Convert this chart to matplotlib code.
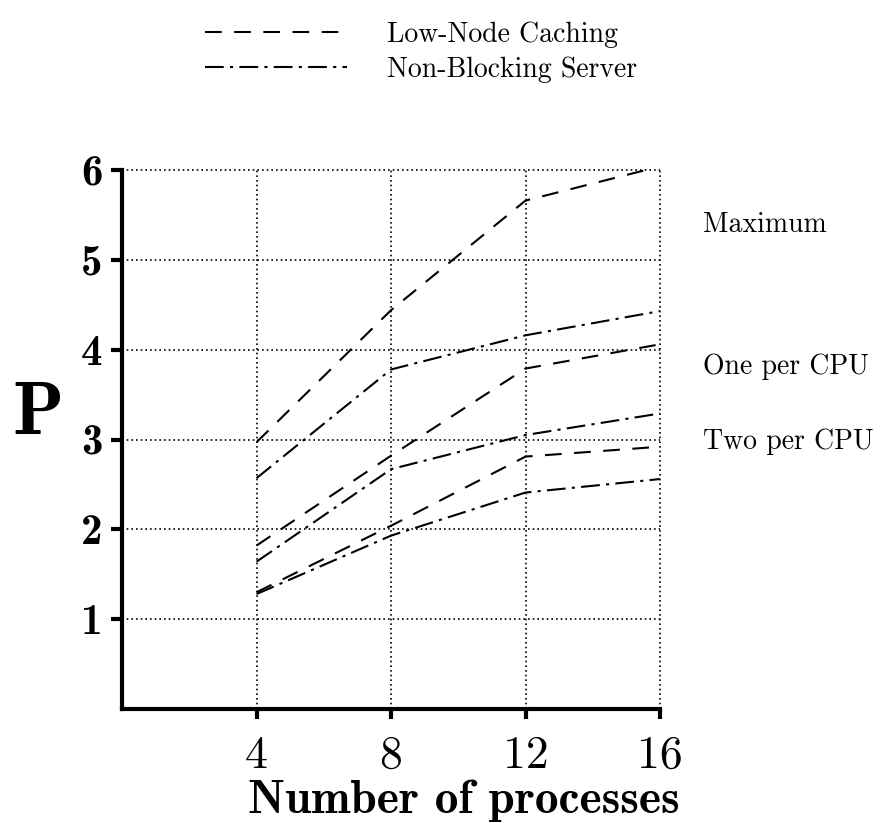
import matplotlib
matplotlib.use("Agg")
import matplotlib.pyplot as plt
from matplotlib.transforms import ScaledTranslation

# data
procs = [4, 8, 12, 16]
lnc_max = [2.97, 4.44, 5.66, 6.04]
nbs_max = [2.57, 3.78, 4.16, 4.43]
lnc_one = [1.82, 2.82, 3.79, 4.06]
nbs_one = [1.64, 2.67, 3.05, 3.29]
lnc_two = [1.30, 2.04, 2.81, 2.92]
nbs_two = [1.28, 1.93, 2.41, 2.56]

x_ticks = [4, 8, 12, 16]
y_ticks = [1, 2, 3, 4, 5, 6]
group_labels = ["Maximum", "One per CPU", "Two per CPU"]
group_label_y = [5.39, 3.81, 2.98]

dash = (0, (8, 6))
dashdot = (0, (9, 3, 1.5, 3))

fig = plt.figure(figsize=(8.85, 8.23), dpi=100)
ax = fig.add_axes([0.1379, 0.1385, 0.6079, 0.6549])

ax.plot(procs, lnc_max, color="black", lw=1.5, linestyle=dash, label="Low-Node Caching")
ax.plot(procs, nbs_max, color="black", lw=1.5, linestyle=dashdot, label="Non-Blocking Server")
ax.plot(procs, lnc_one, color="black", lw=1.5, linestyle=dash)
ax.plot(procs, nbs_one, color="black", lw=1.5, linestyle=dashdot)
ax.plot(procs, lnc_two, color="black", lw=1.5, linestyle=dash)
ax.plot(procs, nbs_two, color="black", lw=1.5, linestyle=dashdot)

ax.set_xlim(0, 16)
ax.set_ylim(0, 6)
ax.set_xticks(x_ticks)
ax.set_yticks(y_ticks)
ax.set_xticklabels([str(v) for v in x_ticks], fontfamily="cmr10", fontsize=33)
ax.set_yticklabels([str(v) for v in y_ticks], fontfamily="cmb10", fontsize=31)
# the y labels sit a little below their ticks in the original
for lbl in ax.get_yticklabels():
    lbl.set_transform(lbl.get_transform() + ScaledTranslation(0, -5 / 72, fig.dpi_scale_trans))

ax.grid(True, color="black", linestyle=(0, (1, 1.8)), linewidth=1.2)
for gl in ax.get_xgridlines() + ax.get_ygridlines():
    gl.set_clip_on(False)

for s in ["top", "right"]:
    ax.spines[s].set_visible(False)
for s in ["left", "bottom"]:
    ax.spines[s].set_linewidth(3)
ax.tick_params(axis="y", direction="out", length=8, width=3, pad=6)
ax.tick_params(axis="x", direction="out", length=7, width=3, pad=12)

ax.set_ylabel("P", fontfamily="cmb10", fontsize=54, rotation=0, va="center", ha="center")
ax.yaxis.set_label_coords(-0.156, 0.544)
ax.set_xlabel("Number of processes", fontfamily="cmb10", fontsize=34, va="baseline")
ax.xaxis.set_label_coords(0.636, -0.193)

for lab, yv in zip(group_labels, group_label_y):
    ax.text(17.28, yv, lab, fontfamily="cmr10", fontsize=20, va="center", ha="left", clip_on=False)

leg = ax.legend(loc="upper left", bbox_to_anchor=(0.154, 1.276), frameon=False,
                prop={"family": "cmr10", "size": 20}, handlelength=5.1,
                handletextpad=1.45, labelspacing=0.3, borderpad=0, borderaxespad=0)

fig.savefig("out.png", dpi=100)
